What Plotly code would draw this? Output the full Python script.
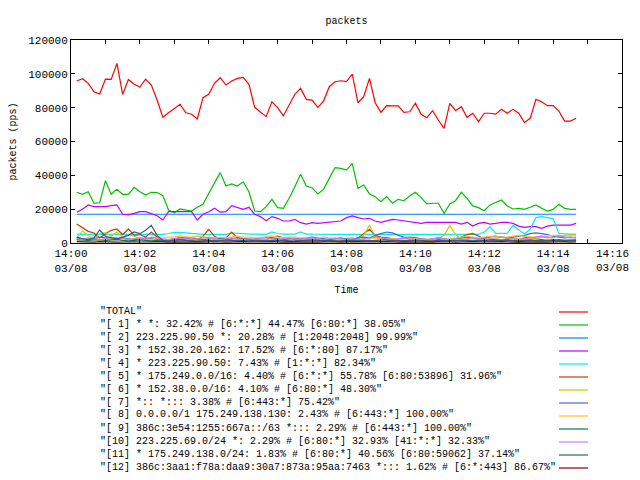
import pandas as pd
import plotly.graph_objects as go

start_time = "2012-03-08 14:00:10"
n_points = 88
times = pd.date_range(start_time, periods=n_points, freq="10s")

tick_vals = ["2012-03-08 14:00", "2012-03-08 14:02", "2012-03-08 14:04", "2012-03-08 14:06",
             "2012-03-08 14:08", "2012-03-08 14:10", "2012-03-08 14:12", "2012-03-08 14:14",
             "2012-03-08 14:16"]
tick_time_labels = ["14:00", "14:02", "14:04", "14:06", "14:08", "14:10", "14:12", "14:14", "14:16"]
tick_date_label = "03/08"

names = [
    '"TOTAL"',
    '"[ 1] * *: 32.42% # [6:*:*] 44.47% [6:80:*] 38.05%"',
    '"[ 2] 223.225.90.50 *: 20.28% # [1:2048:2048] 99.99%"',
    '"[ 3] * 152.38.20.162: 17.52% # [6:*:80] 87.17%"',
    '"[ 4] * 223.225.90.50: 7.43% # [1:*:*] 82.34%"',
    '"[ 5] * 175.249.0.0/16: 4.40% # [6:*:*] 55.78% [6:80:53896] 31.96%"',
    '"[ 6] * 152.38.0.0/16: 4.10% # [6:80:*] 48.30%"',
    '"[ 7] *:: *::: 3.38% # [6:443:*] 75.42%"',
    '"[ 8] 0.0.0.0/1 175.249.138.130: 2.43% # [6:443:*] 100.00%"',
    '"[ 9] 386c:3e54:1255:667a::/63 *::: 2.29% # [6:443:*] 100.00%"',
    '"[10] 223.225.69.0/24 *: 2.29% # [6:80:*] 32.93% [41:*:*] 32.33%"',
    '"[11] * 175.249.138.0/24: 1.83% # [6:80:*] 40.56% [6:80:59062] 37.14%"',
    '"[12] 386c:3aa1:f78a:daa9:30a7:873a:95aa:7463 *::: 1.62% # [6:*:443] 86.67%"',
]

colors = ["#FF0000", "#00C000", "#0080FF", "#C000FF", "#00EEEE", "#C04000",
          "#C8C800", "#4169E1", "#FFC020", "#008040", "#C080FF", "#306080", "#8B0000"]

total = [95800, 97100, 94400, 89400, 88100, 96900, 96700, 106200, 87900, 96700,
         93800, 92200, 96900, 93400, 84500, 74300, 77000, 79600, 82000, 77000,
         76100, 73300, 85900, 87900, 94400, 97700, 93400, 95800, 97300, 97900,
         93800, 80200, 77600, 74700, 83500, 80000, 75100, 82000, 87900, 91400,
         84900, 84500, 80200, 83900, 92400, 95300, 95900, 95400, 99900, 82900,
         86500, 97300, 82900, 77200, 81200, 81000, 81000, 77200, 77600, 82600,
         76100, 74100, 78200, 72700, 67800, 82600, 78200, 80600, 74300, 76700,
         71700, 76700, 76700, 76200, 79000, 76700, 79000, 76700, 71300, 73700,
         84900, 83500, 81200, 81200, 78000, 72100, 72100, 73700]

s1 = [30000, 28800, 30300, 23500, 23800, 36800, 28800, 31700, 28800, 28800,
      32900, 30300, 28400, 30000, 29800, 28000, 19500, 17900, 20100, 19500,
      18900, 21100, 22900, 29400, 35300, 41600, 33700, 34900, 33700, 36200,
      30300, 18900, 18500, 21500, 25800, 20900, 20500, 26400, 33300, 40600,
      33700, 32700, 29000, 31700, 38200, 44500, 44100, 43100, 47100, 32300,
      34300, 29000, 27400, 24400, 27400, 23500, 25800, 25000, 27800, 30000,
      26800, 23100, 23500, 23500, 17600, 23100, 25000, 30000, 26400, 21900,
      20900, 19100, 22500, 23800, 25400, 21900, 20100, 20500, 19900, 21100,
      22500, 20500, 18900, 19900, 22900, 20500, 19900, 19900]

s2 = [17000, 17000, 17000, 17000, 17000, 17000, 17000, 17000, 17000, 17000,
      17000, 17000, 17000, 17000, 17000, 17000, 17000, 17000, 17000, 17000,
      17000, 17000, 17000, 17000, 17000, 17000, 17000, 17000, 17000, 17000,
      17000, 17000, 17000, 17000, 17000, 17000, 17000, 17000, 17000, 17000,
      17000, 17000, 17000, 17000, 17000, 17000, 17000, 17000, 17000, 17000,
      17000, 17000, 17000, 17000, 17000, 17000, 17000, 17000, 17000, 17000,
      17000, 17000, 17000, 17000, 17000, 17000, 17000, 17000, 17000, 17000,
      17000, 17000, 17000, 17000, 17000, 17000, 17000, 17000, 17000, 17000,
      17000, 17000, 17000, 17000, 17000, 17000, 17000, 17000]

s3 = [18200, 19900, 22500, 21500, 21500, 21500, 22100, 22500, 17000, 16600,
      17500, 18500, 18500, 17200, 16100, 13600, 18500, 18500, 18500, 18200,
      18500, 13600, 17000, 18500, 20500, 18200, 18500, 22100, 21100, 19900,
      21100, 17000, 15600, 13200, 15600, 14600, 13000, 13000, 14000, 12000,
      11200, 12000, 11600, 12000, 12600, 13000, 13000, 15000, 16000, 15000,
      14200, 14600, 13000, 12200, 13000, 14000, 13600, 13000, 12600, 12200,
      11600, 12200, 12200, 12200, 12200, 12200, 12200, 11200, 12200, 10000,
      11600, 12200, 11200, 11600, 12200, 12200, 11600, 10000, 9300, 9700,
      9700, 8700, 10000, 10600, 10600, 10600, 10600, 11600]

s4 = [5100, 5100, 5100, 5100, 5100, 5100, 5100, 5100, 5100, 5100,
      5100, 5100, 5100, 5100, 5100, 5100, 5600, 6300, 6300, 6000,
      5300, 5100, 5100, 5100, 5100, 5100, 5100, 5900, 5900, 5500,
      5300, 5100, 5100, 5100, 6500, 5600, 5200, 5200, 5300, 6600,
      5300, 5200, 5100, 5100, 5100, 5100, 5100, 5100, 5100, 5100,
      5100, 5100, 5100, 5100, 5100, 5100, 5100, 5100, 5100, 5100,
      5100, 5100, 5100, 5100, 5100, 5100, 5100, 5100, 5100, 5100,
      5100, 6500, 9700, 5700, 5700, 5700, 10400, 8100, 5300, 8100,
      15000, 15600, 15000, 14400, 5700, 5300, 5300, 5300]

s5 = [11200, 9300, 6900, 5900, 3000, 5500, 7500, 8300, 5000, 8300,
      4500, 5000, 3500, 6500, 3500, 1500, 1200, 2500, 3200, 2800,
      2000, 1500, 4000, 8000, 4000, 2500, 3000, 6500, 3000, 2500,
      2000, 1800, 1500, 2000, 3500, 4000, 3000, 2500, 2000, 1500,
      2000, 2500, 2000, 1500, 2000, 2500, 2000, 1500, 2000, 3000,
      5500, 8100, 4500, 3500, 3000, 2500, 2000, 3000, 3500, 3000,
      2500, 2000, 1500, 2000, 1500, 2000, 2500, 3500, 5000, 5700,
      4000, 2500, 2000, 1500, 2000, 1800, 1500, 2000, 3000, 3500,
      2500, 2000, 1500, 1500, 2000, 1500, 1500, 1800]

s6 = [3000, 7100, 4500, 2000, 5500, 6000, 4000, 6500, 3500, 5000,
      4000, 2500, 2000, 2500, 2000, 1500, 1500, 2000, 2500, 2000,
      1500, 1500, 2000, 2500, 2000, 1500, 2000, 2500, 2000, 2500,
      2000, 1500, 1800, 2000, 2500, 2000, 1500, 2000, 2500, 2000,
      1500, 2000, 2500, 2000, 1800, 1500, 2000, 2500, 3000, 2500,
      4500, 10500, 4000, 2500, 2000, 2500, 2000, 1500, 2000, 2500,
      2000, 1500, 2000, 2500, 4500, 10300, 5000, 2500, 2000, 2500,
      2000, 1500, 2000, 2500, 2000, 2500, 3000, 2500, 2000, 2500,
      3000, 3500, 3000, 3500, 4000, 4500, 4800, 5000]

s7 = [3000, 2500, 2000, 2500, 3500, 3000, 2500, 2000, 3000, 2500,
      2000, 2500, 3000, 2500, 2000, 1500, 2000, 2500, 3000, 3500,
      3000, 2500, 2000, 2500, 3000, 2500, 2000, 2500, 3000, 2500,
      2000, 2500, 3000, 3500, 3000, 2500, 2000, 2500, 3000, 2500,
      3000, 3500, 3000, 2500, 2000, 2500, 3000, 2500, 2000, 3000,
      3500, 3000, 4500, 5500, 6500, 6000, 4500, 3500, 3000, 2500,
      2500, 2000, 2500, 3000, 2500, 2000, 2500, 3000, 3500, 3000,
      2500, 3000, 3500, 4000, 3500, 3000, 3500, 4000, 4500, 5500,
      6000, 5500, 5000, 4000, 3500, 3000, 3500, 3000]

s8 = [1500, 2000, 2500, 2000, 1500, 2000, 2500, 3000, 2500, 2000,
      2500, 3000, 2500, 2000, 2500, 3000, 3500, 3500, 4000, 3500,
      3500, 4000, 3500, 3000, 3000, 3500, 3000, 3500, 4000, 3500,
      3500, 3000, 3000, 3500, 4000, 3500, 3000, 3500, 3500, 3000,
      3000, 2500, 3000, 3500, 3000, 2500, 1500, 1000, 500, 1000,
      2000, 2500, 3000, 2500, 2000, 2500, 2000, 2500, 3000, 2500,
      2000, 2500, 1500, 1000, 1500, 2500, 3000, 3500, 4000, 3500,
      3000, 3500, 4000, 4000, 3500, 3500, 4000, 4500, 4000, 3500,
      3500, 4000, 4000, 4500, 4500, 4000, 4500, 4500]

s9 = [2000, 1800, 1500, 1800, 2000, 1500, 1800, 2000, 1500, 1200,
      1500, 1800, 1500, 1200, 1500, 1000, 1200, 1500, 1800, 1500,
      1200, 1000, 1200, 1500, 1200, 1500, 1800, 1500, 1200, 1500,
      1800, 2000, 1500, 1200, 1500, 1800, 1500, 1200, 1000, 1200,
      1500, 1800, 1500, 1200, 1500, 1200, 1000, 1200, 1500, 1800,
      1500, 1200, 1500, 1800, 2000, 1800, 1500, 1200, 1500, 1800,
      1500, 1200, 1000, 1200, 1500, 1200, 1500, 1800, 1500, 1200,
      1500, 1800, 2000, 1800, 1500, 1800, 1500, 1200, 1500, 1800,
      1500, 1200, 1500, 1800, 1500, 1500, 1200, 1500]

s10 = [2500, 2000, 3000, 2500, 2000, 2500, 3500, 3000, 2500, 2000,
       2500, 3000, 2500, 3500, 3000, 2500, 2000, 2500, 3000, 2500,
       2000, 2500, 3000, 3500, 2500, 2000, 2500, 3000, 2500, 2000,
       2500, 2000, 2500, 3000, 2500, 2000, 2500, 3000, 2500, 2000,
       2500, 3000, 2500, 2000, 2500, 3000, 2500, 2000, 2500, 2000,
       2500, 3000, 3500, 3000, 2500, 2000, 2500, 3000, 2500, 2000,
       2500, 2000, 2500, 3000, 2500, 2000, 2500, 2000, 2500, 3000,
       2500, 2000, 2500, 3000, 3500, 3000, 2500, 2000, 2500, 3000,
       3500, 4000, 3500, 3000, 4500, 3500, 3000, 3500]

s11 = [3500, 2500, 2000, 3000, 7700, 4000, 3000, 2500, 3500, 4500,
       6500, 5500, 7500, 10400, 4500, 1500, 1200, 1500, 2000, 1500,
       1200, 1000, 1200, 1500, 1200, 1000, 1200, 1500, 1200, 1000,
       1200, 1500, 1200, 1000, 1200, 1500, 1200, 1000, 1200, 1500,
       1200, 1000, 1200, 1500, 1200, 1000, 1200, 1500, 1200, 1000,
       1200, 1500, 1200, 1000, 1200, 1500, 1200, 1000, 1200, 1500,
       1200, 1000, 1200, 1500, 1200, 1000, 1200, 1500, 1200, 1000,
       1200, 1500, 1200, 1000, 1200, 1500, 1200, 1000, 1200, 1500,
       1200, 1000, 1200, 1500, 1200, 1000, 1200, 1500]

s12 = [800, 600, 700, 500, 800, 600, 700, 500, 600, 800,
       700, 600, 500, 700, 800, 600, 500, 700, 600, 800,
       700, 600, 500, 700, 800, 600, 500, 700, 600, 800,
       700, 600, 500, 700, 800, 600, 500, 700, 600, 800,
       700, 600, 500, 700, 800, 600, 500, 700, 600, 800,
       700, 600, 500, 700, 800, 600, 500, 700, 600, 800,
       700, 600, 500, 700, 800, 600, 500, 700, 600, 800,
       700, 600, 500, 700, 800, 600, 500, 700, 600, 800,
       700, 600, 500, 700, 800, 600, 500, 700]

series = [total, s1, s2, s3, s4, s5, s6, s7, s8, s9, s10, s11, s12]

FONT = "Liberation Mono"

fig = go.Figure()
for name, vals, col in zip(names, series, colors):
    fig.add_trace(go.Scatter(x=times, y=vals, mode="lines", name=name,
                             line=dict(color=col, width=1.2), showlegend=False))

# The page body has an 8px margin on every side: the figure sits at (8, 8).
OFF = 8
FIG_W, FIG_H = 640 - 2 * OFF, 480 - 2 * OFF
# target positions in window pixels
plot_top, plot_bottom, plot_left, plot_right = 40, 243, 71, 622
ph = plot_bottom - plot_top
pw = plot_right - plot_left

row0 = 311
row_step = 13
annotations = []
shapes = []
for i, (name, col) in enumerate(zip(names, colors)):
    py = row0 + i * row_step
    yp = (plot_bottom - py) / ph
    annotations.append(dict(text=name, x=(99 - plot_left) / pw, y=yp, xref="paper", yref="paper",
                            xanchor="left", yanchor="middle", showarrow=False, borderpad=0,
                            font=dict(family=FONT, size=10, color="black")))
    shapes.append(dict(type="line", xref="paper", yref="paper",
                       x0=(559 - plot_left) / pw, x1=(588 - plot_left) / pw,
                       y0=(plot_bottom - py - 1) / ph, y1=(plot_bottom - py - 1) / ph,
                       line=dict(color=col, width=1.2)))

# tick labels; like the original, the last one is pulled inside the canvas (drawn right-aligned)
tick_text = [t + "<br>" + tick_date_label for t in tick_time_labels[:-1]] + [""]
annotations.append(dict(text=tick_time_labels[-1] + "<br>" + tick_date_label,
                        x=tick_vals[-1], xref="x", xanchor="right", xshift=8,
                        y=0, yref="paper", yanchor="top", yshift=-4, align="center",
                        showarrow=False, borderpad=0,
                        font=dict(family=FONT, size=11, color="black")))

fig.update_layout(
    width=FIG_W, height=FIG_H,
    margin=dict(l=plot_left - OFF, r=OFF + FIG_W - plot_right, t=plot_top - OFF,
                b=OFF + FIG_H - plot_bottom, pad=0),
    paper_bgcolor="white", plot_bgcolor="white",
    font=dict(family=FONT, size=11, color="black"),
    title=dict(text="packets", x=0.5, xref="paper", y=1 - (20 - OFF) / FIG_H, yanchor="middle",
               xanchor="center", font=dict(family=FONT, size=10, color="black")),
    annotations=annotations, shapes=shapes,
    showlegend=False,
)
fig.update_xaxes(
    type="date", range=["2012-03-08 14:00:00", "2012-03-08 14:16:00"],
    tickmode="array", tickvals=tick_vals, ticktext=tick_text,
    ticks="inside", ticklen=4, tickcolor="black", showline=True, linecolor="black", linewidth=1,
    mirror="allticks", showgrid=False, zeroline=False, automargin=False,
    minor=dict(dtick=60000, ticks="inside", ticklen=4, tickcolor="black", showgrid=False),
    tickfont=dict(family=FONT, size=11),
    title=dict(text="Time", font=dict(family=FONT, size=10), standoff=12),
)
fig.update_yaxes(
    range=[0, 120000], dtick=20000, tickformat="d",
    ticks="inside", ticklen=4, tickcolor="black", showline=True, linecolor="black", linewidth=1,
    mirror="allticks", showgrid=False, zeroline=False, automargin=False,
    tickfont=dict(family=FONT, size=11),
    title=dict(text="packets (pps)", font=dict(family=FONT, size=10), standoff=15),
)

fig.write_html("out.html")
